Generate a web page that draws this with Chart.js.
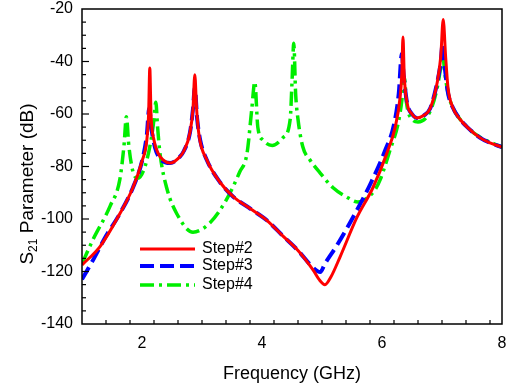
<!DOCTYPE html>
<html><head><meta charset="utf-8">
<script src="https://cdn.jsdelivr.net/npm/chart.js@4.4.1/dist/chart.umd.min.js"></script>
<style>html,body{margin:0;padding:0;background:#fff}#wrap{width:506px;height:385px}</style>
</head><body><div id="wrap"><canvas id="c" width="506" height="385"></canvas></div>
<script>
const seriesNames = ["Step#2", "Step#3", "Step#4"];
const xTickLabels = [2, 4, 6, 8];
const yTickLabels = [-20, -40, -60, -80, -100, -120, -140];

const step2Freq = [1.0,1.3,1.63,1.85,2.0,2.08,2.11,2.13,2.15,2.2,2.27,2.35,2.47,2.6,2.7,2.8,2.85,2.88,2.91,2.95,3.08,3.3,3.52,3.8,4.08,4.35,4.6,4.85,4.95,5.05,5.15,5.3,5.58,5.85,6.08,6.22,6.3,6.33,6.35,6.37,6.42,6.5,6.58,6.7,6.8,6.92,6.98,7.02,7.06,7.1,7.18,7.3,7.42,7.63,7.8,8.0];
const step2Val  = [-117.5,-110.5,-98,-88,-78,-70,-60,-42.5,-60,-70,-75,-77.5,-78.7,-77,-74,-67,-58,-45,-58,-68,-77.5,-86,-91.5,-96,-100.5,-106.5,-112,-119.4,-123,-125,-122,-114.5,-99.5,-88,-75,-65,-54,-45,-30.7,-45,-56,-60,-61.5,-60.5,-58,-48,-38,-24,-38,-50,-57.5,-62,-65,-69,-71,-72.6];

const step3Freq = [1.0,1.2,1.4,1.63,1.85,2.0,2.08,2.12,2.16,2.22,2.3,2.47,2.6,2.7,2.8,2.85,2.88,2.92,2.97,3.08,3.3,3.52,3.8,4.08,4.35,4.6,4.85,4.97,5.05,5.25,5.55,5.82,6.05,6.2,6.28,6.33,6.36,6.42,6.5,6.58,6.7,6.8,6.92,6.98,7.01,7.05,7.1,7.18,7.3,7.42,7.63,7.8,8.0];
const step3Val  = [-123,-115,-106.5,-98,-88,-78,-68,-58,-66,-73,-77,-78.7,-77,-74,-67,-58,-50,-62,-70,-77.5,-86,-91.5,-96,-100.5,-106.5,-112,-118.5,-120.2,-117,-110,-98,-86,-74,-64,-52,-37,-45,-56,-60,-61.5,-60.5,-58,-48,-40,-33,-43,-52,-57.5,-62,-65,-69,-71,-72.6];

const step4Freq = [1.0,1.18,1.47,1.63,1.7,1.74,1.78,1.85,1.93,2.05,2.15,2.2,2.23,2.26,2.3,2.41,2.58,2.85,3.13,3.41,3.63,3.75,3.83,3.88,3.93,4.02,4.17,4.35,4.47,4.5,4.53,4.56,4.6,4.68,4.8,4.97,5.18,5.41,5.6,5.75,5.88,5.97,6.13,6.27,6.33,6.37,6.41,6.5,6.6,6.8,6.92,6.98,7.01,7.05,7.1,7.18,7.42,7.63,8.0];
const step4Val  = [-117,-108,-95,-85,-72,-61,-72,-82,-84.5,-80,-70,-62,-55.5,-65,-75,-88,-98,-105,-101.5,-92.5,-82,-75,-58,-47.8,-65,-70,-72,-69,-62,-48,-33,-52,-62,-72.5,-77.5,-82.5,-88,-91.6,-93.5,-92,-89,-85,-74,-63.5,-55,-45.8,-56,-62,-63,-59,-50,-42,-37.5,-45,-52,-57.5,-65,-68.8,-72.6];

const colors = ["#ff0000", "#0000ff", "#00ee00"];
const dashes = [[], [14, 6], [14, 5, 3, 5]];
const widths = [3, 4, 3.5];

function pts(f, v){ return f.map((x,i)=>({x:x, y:v[i]})); }
const dataSets = [pts(step2Freq, step2Val), pts(step3Freq, step3Val), pts(step4Freq, step4Val)];

const FONT = "'Liberation Sans', Arial, sans-serif";

const framePlugin = {
  id: 'frame',
  afterDraw(chart){
    const ctx = chart.ctx, a = chart.chartArea;
    const xs = chart.scales.x, ys = chart.scales.y;
    ctx.save();
    ctx.strokeStyle = '#000';
    ctx.lineWidth = 1.5;
    ctx.strokeRect(a.left, a.top, a.right - a.left, a.bottom - a.top);
    ctx.lineWidth = 1.2;
    for (let k = 1; k * 0.4 + 1 <= 8.001; k++) {
      const v = 1 + k * 0.4;
      const px = xs.getPixelForValue(v);
      const major = Math.abs(v - Math.round(v)) < 1e-6 && Math.round(v) % 2 === 0;
      ctx.beginPath(); ctx.moveTo(px, a.bottom); ctx.lineTo(px, a.bottom - (major ? 7 : 4)); ctx.stroke();
    }
    for (let v = -135; v <= -25; v += 5) {
      const py = ys.getPixelForValue(v);
      const major = v % 20 === 0;
      ctx.beginPath(); ctx.moveTo(a.left, py); ctx.lineTo(a.left + (major ? 7 : 4), py); ctx.stroke();
    }
    const lx0 = 140, lx1 = 195, rows = [249, 266, 285];
    ctx.font = '16px ' + FONT;
    ctx.textBaseline = 'middle';
    for (let i = 0; i < 3; i++) {
      ctx.strokeStyle = colors[i];
      ctx.lineWidth = widths[i];
      ctx.setLineDash(dashes[i]);
      ctx.beginPath(); ctx.moveTo(lx0, rows[i]); ctx.lineTo(lx1, rows[i]); ctx.stroke();
      ctx.setLineDash([]);
      ctx.fillStyle = '#000';
      ctx.fillText(seriesNames[i], 202, rows[i]);
    }
    ctx.save();
    ctx.translate(26, 184);
    ctx.rotate(-Math.PI / 2);
    ctx.fillStyle = '#000';
    ctx.textBaseline = 'alphabetic';
    const big = '19px ' + FONT, small = '12px ' + FONT;
    ctx.font = big; const wS = ctx.measureText('S').width;
    ctx.font = small; const w21 = ctx.measureText('21').width;
    ctx.font = big; const wR = ctx.measureText(' Parameter (dB)').width;
    let x = -(wS + w21 + wR) / 2;
    ctx.font = big; ctx.fillText('S', x, 7); x += wS;
    ctx.font = small; ctx.fillText('21', x, 11); x += w21;
    ctx.font = big; ctx.fillText(' Parameter (dB)', x, 7);
    ctx.restore();
    ctx.restore();
  }
};

new Chart(document.getElementById('c'), {
  type: 'line',
  data: {
    datasets: dataSets.map((d, i) => ({
      label: seriesNames[i], data: d,
      borderColor: colors[i], borderWidth: widths[i], borderDash: dashes[i],
      pointRadius: 0, fill: false, cubicInterpolationMode: 'monotone'
    }))
  },
  options: {
    responsive: false, animation: false, devicePixelRatio: 1,
    layout: { padding: { left: 0, right: 4, top: 9, bottom: 0 } },
    plugins: { legend: { display: false }, tooltip: { enabled: false } },
    scales: {
      x: {
        type: 'linear', min: 1, max: 8,
        afterBuildTicks(s){ s.ticks = xTickLabels.map(v => ({ value: v })); },
        afterFit(s){ s.height = 61; s.paddingLeft = 0; s.paddingRight = 0; },
        grid: { display: false, drawTicks: false },
        border: { display: false },
        ticks: { color: '#000', font: { family: FONT, size: 16 }, padding: 10, maxRotation: 0 },
        title: { display: true, text: 'Frequency (GHz)', color: '#000', font: { family: FONT, size: 18 }, padding: { top: 4, bottom: 0 } }
      },
      y: {
        type: 'linear', min: -140, max: -20,
        afterBuildTicks(s){ s.ticks = yTickLabels.map(v => ({ value: v })); },
        afterFit(s){ s.width = 82; s.paddingTop = 0; s.paddingBottom = 0; },
        grid: { display: false, drawTicks: false },
        border: { display: false },
        ticks: { color: '#000', font: { family: FONT, size: 16 }, padding: 9 }
      }
    }
  },
  plugins: [framePlugin]
});
</script></body></html>
